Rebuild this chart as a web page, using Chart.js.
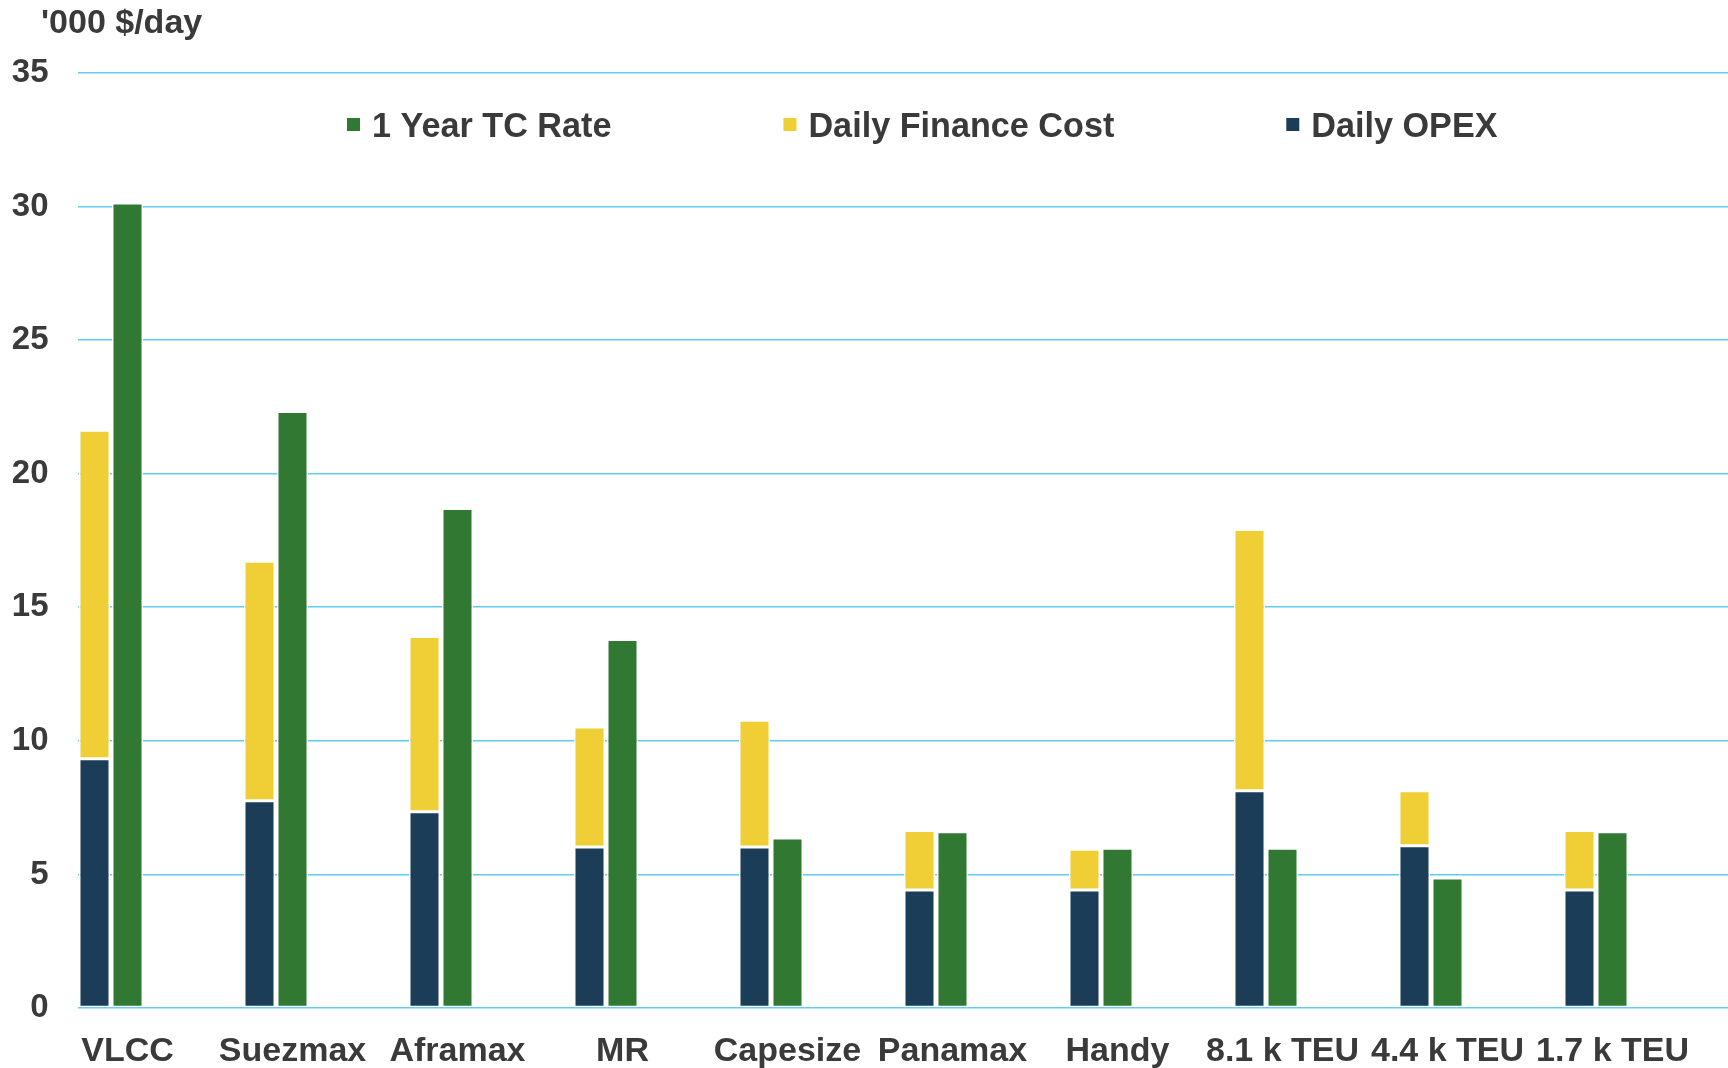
<!DOCTYPE html>
<html>
<head>
<meta charset="utf-8">
<script src="https://cdn.jsdelivr.net/npm/chart.js@4"></script>
<style>
  html, body { margin: 0; padding: 0; background: #ffffff; overflow: hidden; }
  #wrap { width: 1728px; height: 1068px; position: relative; }
  #c { display: block; }
</style>
</head>
<body>
<div id="wrap"><canvas id="c" width="1728" height="1068"></canvas></div>
<script>
const categories = ['VLCC', 'Suezmax', 'Aframax', 'MR', 'Capesize', 'Panamax', 'Handy', '8.1 k TEU', '4.4 k TEU', '1.7 k TEU'];
const dailyOpex = [9.33, 7.76, 7.35, 6.03, 6.03, 4.42, 4.42, 8.13, 6.07, 4.42];
const dailyFinance = [12.3, 8.96, 6.56, 4.49, 4.74, 2.22, 1.52, 9.78, 2.06, 2.22];
const tcRate = [30.13, 22.33, 18.7, 13.79, 6.36, 6.6, 5.98, 5.98, 4.87, 6.6];
const yTicks = [0, 5, 10, 15, 20, 25, 30, 35];
const unitLabel = "'000 $/day";

const TEXT = '#3a3a3a';
const FONT = "'Liberation Sans', Arial, sans-serif";
const NAVY = '#1c3d58';
const YELLOW = '#f0cf36';
const GREEN = '#317833';
const GRID = '#62cbf0';

const emptyRow = categories.map(() => 0);

const titlePlugin = {
  id: 'unitTitle',
  afterDraw(chart) {
    const ctx = chart.ctx;
    ctx.save();
    ctx.fillStyle = TEXT;
    ctx.font = 'bold 34px ' + FONT;
    ctx.textAlign = 'left';
    ctx.textBaseline = 'alphabetic';
    ctx.fillText(unitLabel, 41, 33);
    ctx.restore();
  }
};

const legendPlugin = {
  id: 'customLegend',
  afterDraw(chart) {
    const ctx = chart.ctx;
    const order = [2, 1, 0];
    ctx.save();
    ctx.font = 'bold 34.2px ' + FONT;
    ctx.textBaseline = 'alphabetic';
    ctx.textAlign = 'left';
    let x = 347;
    const yBox = 118, box = 13, baseline = 136.5;
    order.forEach((di) => {
      const ds = chart.data.datasets[di];
      ctx.fillStyle = ds.backgroundColor;
      ctx.fillRect(x, yBox, box, box);
      ctx.fillStyle = TEXT;
      const tx = x + box + 12;
      ctx.fillText(ds.label, tx, baseline);
      x = tx + ctx.measureText(ds.label).width + 172;
    });
    ctx.restore();
  }
};

new Chart(document.getElementById('c'), {
  type: 'bar',
  data: {
    labels: categories,
    datasets: [
      { label: 'Daily OPEX', data: dailyOpex, stack: 'cost', backgroundColor: NAVY, borderColor: '#ffffff', borderWidth: 1.5, borderSkipped: false },
      { label: 'Daily Finance Cost', data: dailyFinance, stack: 'cost', backgroundColor: YELLOW, borderColor: '#ffffff', borderWidth: 1.5, borderSkipped: false },
      { label: '1 Year TC Rate', data: tcRate, stack: 'tc', backgroundColor: GREEN, borderColor: '#ffffff', borderWidth: 1.5, borderSkipped: false },
      { label: '', data: emptyRow, stack: 'e1', backgroundColor: 'rgba(0,0,0,0)', borderWidth: 0 },
      { label: '', data: emptyRow, stack: 'e2', backgroundColor: 'rgba(0,0,0,0)', borderWidth: 0 },
      { label: '', data: emptyRow, stack: 'e3', backgroundColor: 'rgba(0,0,0,0)', borderWidth: 0 }
    ]
  },
  options: {
    responsive: false,
    animation: false,
    devicePixelRatio: 1,
    layout: { padding: { left: 0, right: 0, top: 73, bottom: 0 } },
    datasets: { bar: { categoryPercentage: 1.0, barPercentage: 0.94 } },
    plugins: {
      legend: { display: false },
      title: { display: false },
      tooltip: { enabled: false }
    },
    scales: {
      x: {
        stacked: true,
        grid: { display: false, drawTicks: false },
        border: { display: false },
        ticks: {
          color: TEXT,
          font: { family: FONT, size: 34, weight: 'bold' },
          padding: 23,
          labelOffset: -33,
          maxRotation: 0,
          autoSkip: false
        },
        afterFit(scale) {
          scale.height = 60;
          scale.paddingLeft = 0;
          scale.paddingRight = 0;
        }
      },
      y: {
        stacked: true,
        min: 0,
        max: 35,
        afterBuildTicks(scale) { scale.ticks = yTicks.map(v => ({ value: v })); },
        grid: { color: GRID, lineWidth: 1.6, drawTicks: false },
        border: { display: false },
        ticks: {
          color: TEXT,
          font: { family: FONT, size: 33, weight: 'bold' },
          padding: 29.5
        },
        afterFit(scale) { scale.width = 78; }
      }
    }
  },
  plugins: [titlePlugin, legendPlugin]
});
</script>
</body>
</html>
